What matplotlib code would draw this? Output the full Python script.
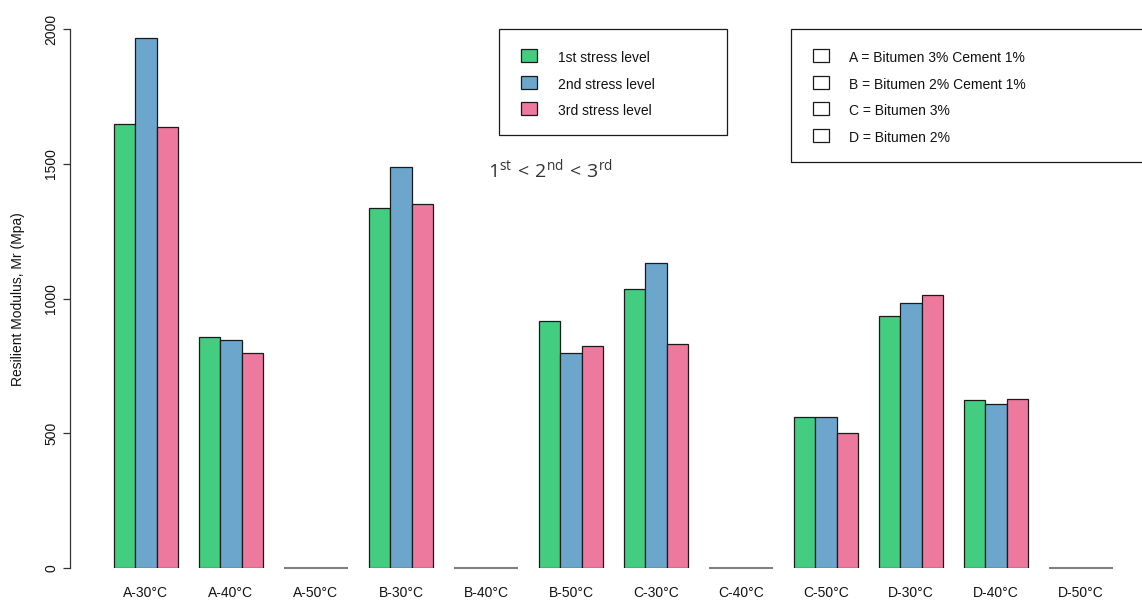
import matplotlib
matplotlib.use("Agg")
import matplotlib.pyplot as plt
from matplotlib.patches import Rectangle

# ---- data -------------------------------------------------------------
categories = ["A-30°C", "A-40°C", "A-50°C", "B-30°C", "B-40°C", "B-50°C",
              "C-30°C", "C-40°C", "C-50°C", "D-30°C", "D-40°C", "D-50°C"]
stress_1 = [1649, 859, 0, 1335, 0, 919, 1037, 0, 560, 935, 623, 0]
stress_2 = [1968, 846, 0, 1488, 0, 798, 1132, 0, 560, 983, 611, 0]
stress_3 = [1636, 799, 0, 1351, 0, 824, 831, 0, 501, 1015, 627, 0]

series_labels = ["1st stress level", "2nd stress level", "3rd stress level"]
series_colors = ["#43CD80", "#6CA6CD", "#EE799F"]
mix_labels = ["A = Bitumen 3% Cement 1%", "B = Bitumen 2% Cement 1%",
              "C = Bitumen 3%", "D = Bitumen 2%"]
y_ticks = [0, 500, 1000, 1500, 2000]
y_label = "Resilient Modulus, Mr (Mpa)"
order_note = r"$1^{\mathrm{st}}\,<\,2^{\mathrm{nd}}\,<\,3^{\mathrm{rd}}$"

# ---- style ------------------------------------------------------------
plt.rcParams["font.family"] = ["Liberation Sans", "DejaVu Sans"]
plt.rcParams["mathtext.fontset"] = "custom"
plt.rcParams["mathtext.rm"] = "Open Sans"
plt.rcParams["mathtext.it"] = "Open Sans:italic"
plt.rcParams["mathtext.bf"] = "Open Sans:bold"

W, H = 1142, 601
fig = plt.figure(figsize=(W / 100, H / 100), dpi=100)
fig.patch.set_facecolor("white")


def fx(x):
    return x / W


def fy(y):
    return 1 - y / H


# plot region (pixel layout, origin at top-left)
ax_left, ax_right = 70, 1142
ax_top, ax_bottom = 29.3, 568.2
ax = fig.add_axes([fx(ax_left), fy(ax_bottom),
                   (ax_right - ax_left) / W, (ax_bottom - ax_top) / H])

# grouped bars: 3 bars per group, one empty slot between groups
unit_px = 21.25
first_bar_px = 114
x_lo = 1 - (first_bar_px - ax_left) / unit_px
x_hi = x_lo + (ax_right - ax_left) / unit_px
group_step = 4

series = [stress_1, stress_2, stress_3]
for j, (vals, col, lab) in enumerate(zip(series, series_colors, series_labels)):
    xs = [1 + group_step * i + j for i in range(len(categories))]
    bars = ax.bar(xs, vals, width=1.0, align="edge", color=col,
                  edgecolor="#1a1a1a", linewidth=0.9, label=lab)
    # empty cells collapse to a flat outline on the baseline
    for rect, v in zip(bars, vals):
        if v == 0:
            rect.set_edgecolor("#808080")
            rect.set_linewidth(1.5)
            rect.set_clip_on(False)

centers = [1 + group_step * i + 1.5 for i in range(len(categories))]
ax.set_xticks(centers)
ax.set_xticklabels(categories, fontsize=10, color="#111111")
ax.tick_params(axis="x", length=0, pad=13)

ax.set_xlim(x_lo, x_hi)
ax.set_ylim(0, 2000)
ax.set_yticks(y_ticks)
ax.set_yticklabels([str(t) for t in y_ticks], rotation=90, va="center",
                   fontsize=10, color="#111111")
ax.tick_params(axis="y", length=5, width=0.9, pad=3.5, color="#333333")

for side in ("top", "right", "bottom"):
    ax.spines[side].set_visible(False)
ax.spines["left"].set_bounds(0, 2000)
ax.spines["left"].set_linewidth(0.9)
ax.spines["left"].set_color("#333333")

ax.set_ylabel(y_label, fontsize=10, color="#111111")
ax.yaxis.set_label_coords((18 - ax_left) / (ax_right - ax_left), 0.5)
ax.yaxis.label.set_va("center")
ax.yaxis.label.set_ha("center")


# ---- legends ----------------------------------------------------------
def draw_legend(box, rows, labels, fills, sq_x, text_x):
    x0, y0, x1, y1 = box
    fig.add_artist(Rectangle((fx(x0), fy(y1)), (x1 - x0) / W, (y1 - y0) / H,
                             transform=fig.transFigure, fill=False,
                             edgecolor="#1a1a1a", linewidth=0.9,
                             clip_on=False))
    sw, sh = 16.5, 13
    for ry, lab, fc in zip(rows, labels, fills):
        fig.add_artist(Rectangle((fx(sq_x), fy(ry + sh / 2 - 1.5)), sw / W, sh / H,
                                 transform=fig.transFigure,
                                 facecolor=fc, edgecolor="#1a1a1a",
                                 linewidth=0.9))
        fig.text(fx(text_x), fy(ry + 5), lab, fontsize=10, color="#111111",
                 ha="left", va="baseline")


row_step = 26.5
draw_legend((498.5, 29.5, 727, 135),
            [57.3 + k * row_step for k in range(len(series_labels))],
            series_labels, series_colors, 520.5, 558)
draw_legend((790.7, 29.3, 1160, 161.7),
            [57.3 + k * row_step for k in range(len(mix_labels))],
            mix_labels, ["white"] * len(mix_labels), 812.5, 849)

fig.text(fx(488), fy(177.7), order_note, fontsize=14, color="#333333",
         ha="left", va="baseline")

fig.savefig("out.png", dpi=100, facecolor="white")
